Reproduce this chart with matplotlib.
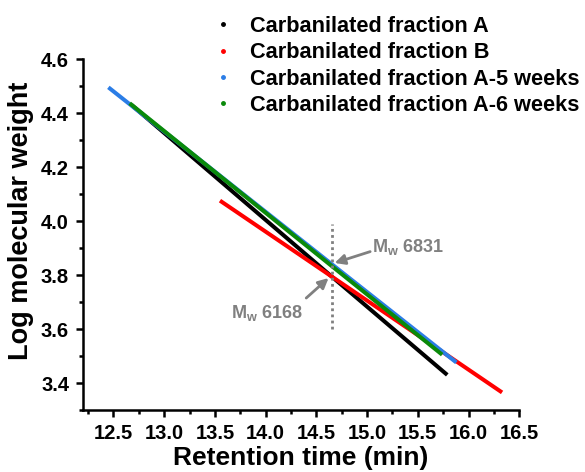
import matplotlib
matplotlib.use("Agg")
import matplotlib.pyplot as plt
from matplotlib.lines import Line2D
from matplotlib.ticker import MultipleLocator

plt.rcParams["font.family"] = ["Liberation Sans", "DejaVu Sans"]
plt.rcParams["font.weight"] = "bold"
plt.rcParams["mathtext.fontset"] = "custom"
plt.rcParams["mathtext.rm"] = "Liberation Sans:bold"
plt.rcParams["mathtext.default"] = "rm"

# calibration lines (retention time in min, log molecular weight)
labels = ["Carbanilated fraction A", "Carbanilated fraction B",
          "Carbanilated fraction A-5 weeks", "Carbanilated fraction A-6 weeks"]
colors = ["black", "#ff0000", "#2b7de6", "#0a8a0a"]
frac_a_x = [12.68, 14.65, 15.79]
frac_a_y = [4.43, 3.795, 3.43]
frac_b_x = [13.55, 14.65, 16.33]
frac_b_y = [4.076, 3.795, 3.365]
frac_a5_x = [12.45, 14.65, 15.88]
frac_a5_y = [4.496, 3.841, 3.476]
frac_a6_x = [12.66, 14.65, 15.74]
frac_a6_y = [4.437, 3.834, 3.505]

mw_time = 14.65
mw_high = 3.845   # log 6831
mw_low = 3.789    # log 6168

fig = plt.figure(figsize=(5.85, 4.72), dpi=100)
ax = fig.add_axes([0.1419, 0.1314, 0.7458, 0.743])

series = [(frac_a_x, frac_a_y), (frac_b_x, frac_b_y),
          (frac_a5_x, frac_a5_y), (frac_a6_x, frac_a6_y)]
for (xs, ys), c in zip(series, colors):
    ax.plot(xs, ys, color=c, lw=2.9, solid_capstyle="butt")

ax.plot([mw_time, mw_time], [3.6, 3.99], color="#808080", lw=2,
        linestyle=(0, (1, 1.2)))

gray = "#808080"
ax.annotate("", xy=(mw_time + 0.03, mw_high), xytext=(15.03, 3.887),
            arrowprops=dict(arrowstyle="-|>,head_length=0.6,head_width=0.3",
                            color=gray, lw=2, shrinkA=0, shrinkB=0))
ax.text(15.05, 3.906, "M$_w$ 6831", color=gray, fontsize=13,
        va="center", ha="left")
ax.annotate("", xy=(mw_time - 0.03, mw_low), xytext=(14.40, 3.715),
            arrowprops=dict(arrowstyle="-|>,head_length=0.6,head_width=0.3",
                            color=gray, lw=2, shrinkA=0, shrinkB=0))
ax.text(13.66, 3.659, "M$_w$ 6168", color=gray, fontsize=13,
        va="center", ha="left")

ax.set_xlim(12.2, 16.5)
ax.set_ylim(3.3, 4.6)
ax.xaxis.set_minor_locator(MultipleLocator(0.25))
ax.yaxis.set_minor_locator(MultipleLocator(0.1))
ax.set_xticks([12.5, 13.0, 13.5, 14.0, 14.5, 15.0, 15.5, 16.0, 16.5])
ax.set_yticks([3.4, 3.6, 3.8, 4.0, 4.2, 4.4, 4.6])

for side in ["top", "right"]:
    ax.spines[side].set_visible(False)
for side in ["left", "bottom"]:
    ax.spines[side].set_linewidth(1.8)
ax.tick_params(which="major", direction="out", length=5, width=1.8,
               labelsize=14.5, pad=5)
ax.tick_params(which="minor", direction="out", length=3, width=1.8)

ax.set_xlabel("Retention time (min)", fontsize=19, fontweight="bold", labelpad=2.5)
ax.set_ylabel("Log molecular weight", fontsize=19.5, fontweight="bold")
ax.yaxis.set_label_coords(-0.112, 0.54)

handles = [Line2D([], [], color=c, marker="o", markersize=2.5, linestyle="none")
           for c in colors]
fig.legend(handles, labels, loc="upper left", bbox_to_anchor=(0.3665, 0.966),
           frameon=False, fontsize=15.7, handlelength=0.8, handletextpad=0.85,
           labelspacing=0.24, borderpad=0, borderaxespad=0)

fig.savefig("out.png", dpi=100)
